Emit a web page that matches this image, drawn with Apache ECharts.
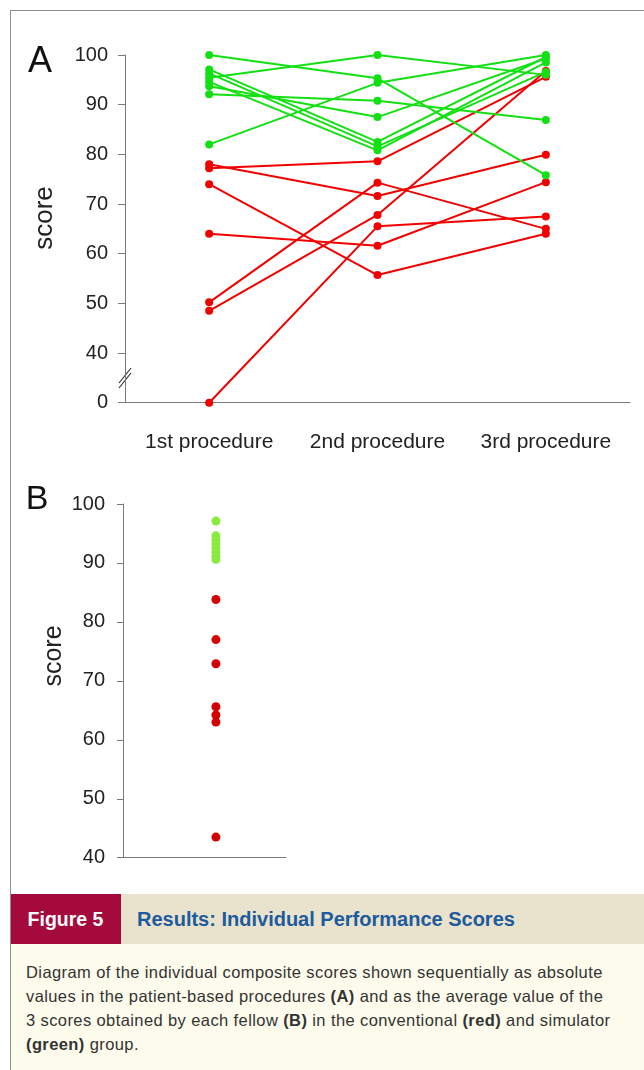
<!DOCTYPE html>
<html><head><meta charset="utf-8">
<script src="https://cdn.jsdelivr.net/npm/echarts@6/dist/echarts.min.js"></script>
<style>
body{margin:0;background:#fff;}
#wrap{position:relative;width:644px;height:1070px;overflow:hidden;font-family:'Liberation Sans',Arial,sans-serif;}
#chart{position:absolute;left:0;top:0;width:644px;height:890px;}
.bt{position:absolute;left:10px;top:10px;width:634px;height:1px;background:#8c8c8c;}
.bl{position:absolute;left:10px;top:10px;width:1px;height:1060px;background:#8c8c8c;z-index:5;}
#band{position:absolute;left:10px;top:894px;width:634px;height:50px;background:#e9e2cc;}
#fig{position:absolute;left:10px;top:894px;width:111px;height:50px;line-height:50px;background:#a50a3c;color:#fff;font-weight:bold;font-size:19.5px;text-align:center;}
#title{position:absolute;left:137px;top:894px;height:50px;line-height:50px;color:#1d5b9c;font-weight:bold;font-size:20px;}
#body{position:absolute;left:10px;top:944px;width:634px;height:126px;background:#fdfbec;}
#text{position:absolute;left:26px;top:960px;width:615px;font-size:16.5px;letter-spacing:0.4px;line-height:24px;color:#333;white-space:nowrap;}
</style></head>
<body><div id="wrap">
<div id="chart"></div>
<div class="bt"></div>
<div id="band"></div>
<div id="fig">Figure 5</div>
<div id="title">Results: Individual Performance Scores</div>
<div id="body"></div>
<div id="text">Diagram of the individual composite scores shown sequentially as absolute<br>values in the patient-based procedures <b>(A)</b> and as the average value of the<br>3 scores obtained by each fellow <b>(B)</b> in the conventional <b>(red)</b> and simulator<br><b>(green)</b> group.</div>
<div class="bl"></div>
</div>
<script>
// ---- Data ----
const procedures = ['1st procedure', '2nd procedure', '3rd procedure'];
// Conventional group (red), scores per procedure
const conv1 = [77.2, 78.6, 95.6];
const conv2 = [78.0, 71.6, 79.9];
const conv3 = [74.0, 55.7, 64.0];
const conv4 = [64.0, 61.6, 74.4];
const conv5 = [50.2, 74.3, 65.0];
const conv6 = [48.5, 67.8, 96.8];
const conv7 = [0, 65.5, 67.5];
// Simulator group (green)
const sim1 = [100, 95.3, 75.8];
const sim2 = [95.4, 100, 96.0];
const sim3 = [82.0, 94.4, 100];
const sim4 = [92.1, 90.8, 86.9];
const sim5 = [93.7, 87.5, 99.3];
const sim6 = [97.1, 82.5, 99.6];
const sim7 = [96.3, 81.6, 96.6];
const sim8 = [94.6, 80.8, 98.5];
// Panel B: average of the 3 scores
const convAvg = [83.8, 77.0, 72.9, 65.6, 64.2, 63.0, 43.5];
const simAvg = [97.1, 94.6, 93.9, 93.2, 92.5, 91.8, 91.1, 90.6];
// Axis ticks
const yTicksA = [0, 40, 50, 60, 70, 80, 90, 100];
const yTicksB = [40, 50, 60, 70, 80, 90, 100];

// ---- Chart ----
const RED = '#f20000', GREEN = '#12e012', RED_B = '#d40000', GREEN_B = '#8aea3e';
const AX = '#7a7a7a', TXT = '#222';
const FONT = "'Liberation Sans', Arial, sans-serif";
const BREAK_POS = 30; // axis position used to draw values below the break
const brk = v => (v < yTicksA[1] ? BREAK_POS : v);

const convLines = [conv1, conv2, conv3, conv4, conv5, conv6, conv7];
const simLines = [sim1, sim2, sim3, sim4, sim5, sim6, sim7, sim8];

function lineSeries(arr, color) {
  return {
    type: 'line', xAxisIndex: 0, yAxisIndex: 0,
    data: arr.map(brk), symbol: 'circle', symbolSize: 8, showSymbol: true,
    lineStyle: { width: 2, color: color }, itemStyle: { color: color },
    emphasis: { disabled: true }, animation: false
  };
}

const chart = echarts.init(document.getElementById('chart'));
const option = {
  animation: false,
  grid: [
    { left: 125, top: 55, width: 505, height: 347.7 },
    { left: 123, top: 504, width: 163, height: 353.7 }
  ],
  xAxis: [
    {
      type: 'category', gridIndex: 0, data: procedures, boundaryGap: true,
      axisLine: { lineStyle: { color: AX, width: 1 } },
      axisTick: { length: 8, lineStyle: { color: AX } },
      axisLabel: { fontSize: 21, color: TXT, margin: 29, fontFamily: FONT, interval: 0, hideOverlap: false },
      splitLine: { show: false }
    },
    {
      type: 'value', gridIndex: 1, min: -0.57, max: 0.43,
      axisLine: { show: true, onZero: false, lineStyle: { color: AX, width: 1 } },
      axisTick: { show: false }, axisLabel: { show: false }, splitLine: { show: false }
    }
  ],
  yAxis: [
    {
      type: 'value', gridIndex: 0, min: BREAK_POS, max: 100, interval: 10,
      axisLine: { show: true, onZero: false, lineStyle: { color: AX, width: 1 } },
      axisTick: { show: true, length: 7, lineStyle: { color: AX } },
      axisLabel: {
        fontSize: 20, color: TXT, margin: 17, fontFamily: FONT,
        formatter: v => (v === BREAK_POS ? String(yTicksA[0]) : String(v))
      },
      splitLine: { show: false }
    },
    {
      type: 'value', gridIndex: 1, min: yTicksB[0], max: yTicksB[yTicksB.length - 1], interval: 10,
      axisLine: { show: true, onZero: false, lineStyle: { color: AX, width: 1 } },
      axisTick: { show: true, length: 6, lineStyle: { color: AX } },
      axisLabel: { fontSize: 20, color: TXT, margin: 18, fontFamily: FONT },
      splitLine: { show: false }
    }
  ],
  series: [
    ...convLines.map(a => lineSeries(a, RED)),
    ...simLines.map(a => lineSeries(a, GREEN)),
    {
      type: 'scatter', xAxisIndex: 1, yAxisIndex: 1, symbolSize: 9,
      data: convAvg.map(v => [0, v]), itemStyle: { color: RED_B, opacity: 1 }, emphasis: { disabled: true }
    },
    {
      type: 'scatter', xAxisIndex: 1, yAxisIndex: 1, symbolSize: 9,
      data: simAvg.map(v => [0, v]), itemStyle: { color: GREEN_B, opacity: 1 }, emphasis: { disabled: true }
    }
  ],
  graphic: [
    { type: 'text', x: 40, y: 62, style: { text: 'A', fontSize: 36, fontFamily: FONT, fill: '#111', align: 'center', verticalAlign: 'middle' } },
    { type: 'text', x: 37, y: 500, style: { text: 'B', fontSize: 34, fontFamily: FONT, fill: '#111', align: 'center', verticalAlign: 'middle' } },
    { type: 'text', x: 45, y: 218, rotation: Math.PI / 2, style: { text: 'score', fontSize: 26, fontFamily: FONT, fill: TXT, align: 'center', verticalAlign: 'middle' } },
    { type: 'text', x: 54, y: 656, rotation: Math.PI / 2, style: { text: 'score', fontSize: 25, fontFamily: FONT, fill: TXT, align: 'center', verticalAlign: 'middle' } },
    { type: 'line', shape: { x1: 119, y1: 383, x2: 131, y2: 368 }, style: { stroke: '#333', lineWidth: 1.2 } },
    { type: 'line', shape: { x1: 119, y1: 388, x2: 131, y2: 373 }, style: { stroke: '#333', lineWidth: 1.2 } }
  ]
};
chart.setOption(option);
</script>
</body></html>
